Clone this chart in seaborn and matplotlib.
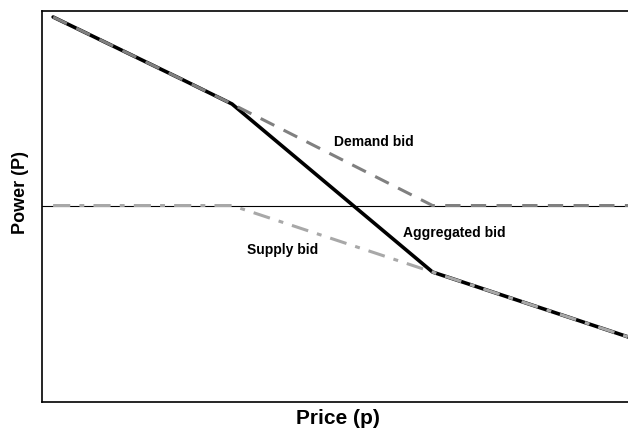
import matplotlib
matplotlib.use("Agg")
import matplotlib.pyplot as plt
import seaborn as sns

# price axis positions (arbitrary units) and bid curves
price = [1.9, 24.1, 32.4, 66.6, 100]
demand = [96.9, 64.5, 52.2, 0, 0]
supply = [0, 0, 0, -34.2, -67.6]
aggregated = [96.9, 64.5, 52.2, -34.2, -67.6]

labels = {"Demand bid": (56.6, 32.5), "Aggregated bid": (70.3, -14.0), "Supply bid": (41.0, -22.8)}

sns.set_style("white")
plt.rcParams['font.family'] = ['Liberation Sans', 'DejaVu Sans']
plt.rcParams['text.color'] = 'black'
plt.rcParams['axes.labelcolor'] = 'black'

fig = plt.figure(figsize=(6.28, 4.32), dpi=100)
ax = fig.add_axes([42 / 628, 30 / 432, 1.01 - 42 / 628, 391 / 432])

ax.axhline(0, color='black', lw=0.8, zorder=1)

sns.lineplot(x=price, y=aggregated, ax=ax, color='black', lw=2.6, zorder=2)
sns.lineplot(x=price, y=demand, ax=ax, color='#808080', lw=2.2,
             linestyle=(0, (5, 3.4)), zorder=3)
sns.lineplot(x=price, y=supply, ax=ax, color='#a8a8a8', lw=2.2,
             linestyle=(0, (5.6, 3, 1.6, 3)), zorder=3)

for txt, (x, y) in labels.items():
    ax.text(x, y, txt, ha='center', va='center', fontsize=10,
            fontweight='bold', color='black')

ax.set_xlim(0, 101)
ax.set_ylim(-101, 100)
ax.set_xticks([])
ax.set_yticks([])
ax.set_xlabel('Price (p)', fontsize=15, fontweight='bold', labelpad=5)
ax.set_ylabel('Power (P)', fontsize=13, fontweight='bold')
ax.yaxis.set_label_coords(-0.022, 0.537)

for s in ['left', 'bottom', 'top']:
    ax.spines[s].set_color('black')
    ax.spines[s].set_linewidth(1.2)
ax.spines['right'].set_visible(False)

fig.savefig('out.png', dpi=100)
